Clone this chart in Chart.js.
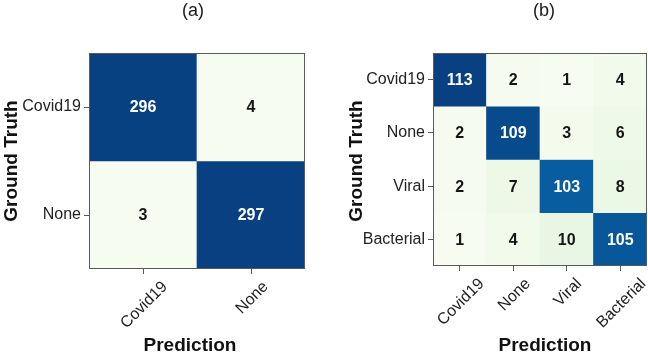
<!DOCTYPE html>
<html><head><meta charset="utf-8">
<script src="https://cdn.jsdelivr.net/npm/chart.js@4.4.0/dist/chart.umd.min.js"></script>
<style>
html,body{margin:0;padding:0;background:#fff;}
#wrap{position:relative;width:648px;height:354px;overflow:hidden;background:#fff;}
canvas{position:absolute;top:0;}
</style></head><body>
<div id="wrap">
<canvas id="ca" width="324" height="354" style="left:0px"></canvas>
<canvas id="cb" width="324" height="354" style="left:324px"></canvas>
</div>
<script>
// ---- data ----
const classesA = ['Covid19', 'None'];
const matrixA = [
  [296, 4],
  [3, 297]
];
const classesB = ['Covid19', 'None', 'Viral', 'Bacterial'];
const matrixB = [
  [113, 2, 1, 4],
  [2, 109, 3, 6],
  [2, 7, 103, 8],
  [1, 4, 10, 105]
];
const panelTitles = ['(a)', '(b)'];
const xTitle = 'Prediction';
const yTitle = 'Ground Truth';

// ---- styling ----
const FONT = '"Liberation Sans", Arial, Helvetica, sans-serif';
const GNBU = ['#f7fcf0','#e0f3db','#ccebc5','#a8ddb5','#7bccc4','#4eb3d3','#2b8cbe','#0868ac','#084081'];
function hex2rgb(h){return [parseInt(h.substr(1,2),16),parseInt(h.substr(3,2),16),parseInt(h.substr(5,2),16)];}
function cmap(t){
  t = Math.max(0, Math.min(1, t));
  const p = t * (GNBU.length - 1);
  const i = Math.min(Math.floor(p), GNBU.length - 2);
  const f = p - i;
  const a = hex2rgb(GNBU[i]), b = hex2rgb(GNBU[i+1]);
  const c = a.map((v, k) => Math.round(v + (b[k] - v) * f));
  return `rgb(${c[0]},${c[1]},${c[2]})`;
}

function makeChart(canvasId, classes, matrix, cfg) {
  const n = classes.length;
  const flat = matrix.flat();
  const vmin = Math.min(...flat), vmax = Math.max(...flat);
  const thresh = vmax / 2;
  const datasets = matrix.map((row, r) => ({
    label: classes[r],
    data: row.map(() => [r - 0.5, r + 0.5]),
    backgroundColor: row.map(v => cmap((v - vmin) / (vmax - vmin))),
    borderWidth: 0,
    borderSkipped: false,
    barPercentage: 1,
    categoryPercentage: 1,
    grouped: false
  }));

  const decor = {
    id: 'decor',
    afterDatasetsDraw(chart) {
      const ctx = chart.ctx;
      const ca = chart.chartArea;
      ctx.save();
      // cell values
      ctx.font = `bold 16px ${FONT}`;
      ctx.textAlign = 'center';
      ctx.textBaseline = 'middle';
      matrix.forEach((row, r) => {
        const meta = chart.getDatasetMeta(r);
        row.forEach((v, c) => {
          const el = meta.data[c];
          const cy = (el.y + el.base) / 2;
          ctx.fillStyle = v > thresh ? '#ffffff' : '#161616';
          ctx.fillText(String(v), el.x, cy + 1);
        });
      });
      // frame
      ctx.strokeStyle = '#5a5a5a';
      ctx.lineWidth = 1;
      ctx.strokeRect(Math.round(ca.left) + 0.5, Math.round(ca.top) + 0.5,
                     Math.round(ca.right - ca.left) - 1, Math.round(ca.bottom - ca.top) - 1);
      ctx.restore();
    },
    afterDraw(chart) {
      const ctx = chart.ctx;
      const ca = chart.chartArea;
      const xs = chart.scales.x;
      ctx.save();
      // rotated x tick labels, centered under ticks
      ctx.font = `16px ${FONT}`;
      ctx.fillStyle = '#222';
      classes.forEach((lab, c) => {
        const x = xs.getPixelForValue(c);
        const m = ctx.measureText(lab);
        const asc = m.actualBoundingBoxAscent;
        const s = (m.width + asc) / Math.SQRT2;
        const top = ca.bottom + 10;
        ctx.save();
        ctx.translate(x, top + s / 2);
        ctx.rotate(-Math.PI / 4);
        ctx.textAlign = 'center';
        ctx.textBaseline = 'alphabetic';
        ctx.fillText(lab, 0, asc / 2);
        ctx.restore();
      });
      // panel title
      ctx.font = `18px ${FONT}`;
      ctx.fillStyle = '#1a1a1a';
      ctx.textAlign = 'center';
      ctx.textBaseline = 'middle';
      ctx.fillText(cfg.panel, cfg.panelX, 11);
      // x axis title
      ctx.font = `bold 19px ${FONT}`;
      ctx.fillStyle = '#111';
      ctx.textBaseline = 'alphabetic';
      ctx.fillText(xTitle, cfg.xTitleX, 351);
      // y axis title
      ctx.save();
      ctx.translate(cfg.yTitleX, 161);
      ctx.rotate(-Math.PI / 2);
      ctx.textAlign = 'center';
      ctx.textBaseline = 'alphabetic';
      ctx.fillText(yTitle, 0, 7);
      ctx.restore();
      ctx.restore();
    }
  };

  return new Chart(document.getElementById(canvasId), {
    type: 'bar',
    data: { labels: classes, datasets },
    options: {
      responsive: false,
      devicePixelRatio: 1,
      animation: false,
      layout: { padding: { left: 0, right: cfg.padRight, top: 53, bottom: 0 } },
      plugins: { legend: { display: false }, tooltip: { enabled: false }, title: { display: false } },
      scales: {
        x: {
          type: 'category',
          offset: true,
          grid: { display: true, offset: false, drawOnChartArea: false, drawTicks: true, tickLength: 5, color: '#5a5a5a', lineWidth: 1 },
          border: { display: false },
          ticks: { display: false },
          afterFit(s) { s.height = cfg.xAxisH; }
        },
        y: {
          type: 'linear',
          reverse: true,
          min: -0.5,
          max: n - 0.5,
          grid: { display: true, drawOnChartArea: false, drawTicks: true, tickLength: 5, color: '#5a5a5a', lineWidth: 1 },
          border: { display: false },
          afterBuildTicks(s) { s.ticks = classes.map((_, i) => ({ value: i })); },
          ticks: {
            padding: 3,
            color: '#222',
            font: { family: FONT, size: 16 },
            callback: v => classes[v]
          },
          afterFit(s) { s.width = cfg.yAxisW; }
        }
      }
    },
    plugins: [decor]
  });
}

makeChart('ca', classesA, matrixA, {
  panel: panelTitles[0], panelX: 193, xTitleX: 190, yTitleX: 10,
  padRight: 19, yAxisW: 89, xAxisH: 85
});
makeChart('cb', classesB, matrixB, {
  panel: panelTitles[1], panelX: 220, xTitleX: 221, yTitleX: 31,
  padRight: 1, yAxisW: 109, xAxisH: 88
});
</script>
</body></html>
